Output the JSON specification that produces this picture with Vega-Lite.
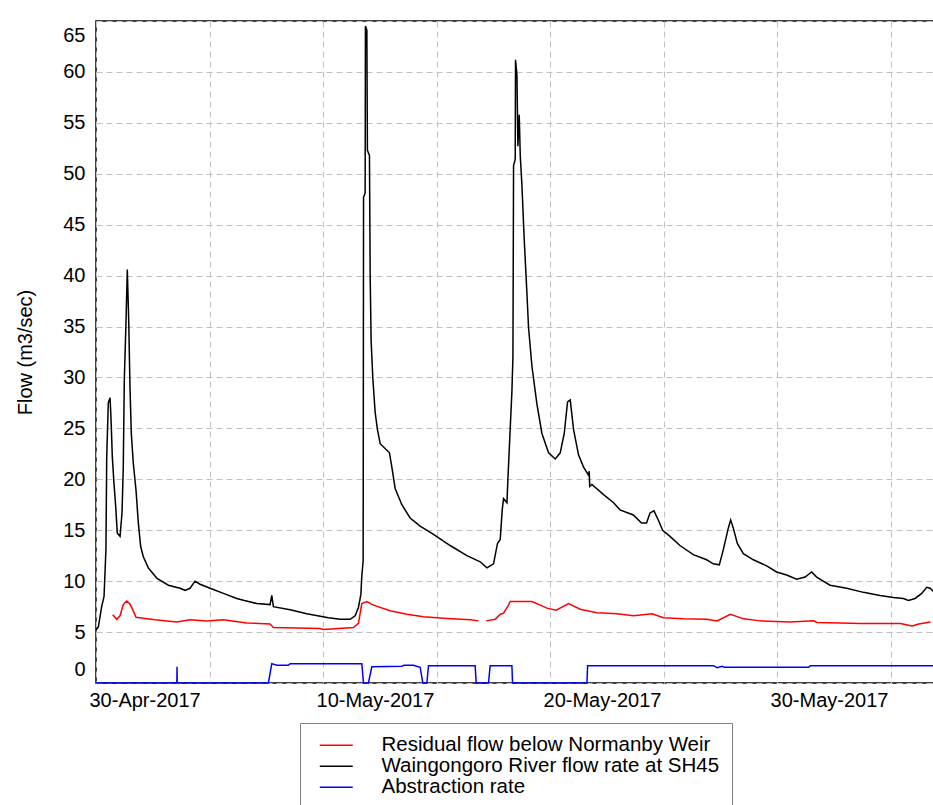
{
  "$schema": "https://vega.github.io/schema/vega-lite/v6.json",
  "width": 840,
  "height": 662,
  "autosize": {"type": "none"},
  "padding": {"left": 96, "top": 21, "right": 0, "bottom": 122},
  "background": "white",
  "config": {
    "font": "Liberation Sans",
    "view": {"stroke": "#000000", "strokeWidth": 1.5}
  },
  "datasets": {
    "black": [
      {"t":"2017-04-30T00:00","v":5.2},{"t":"2017-04-30T02:30","v":5.5},{"t":"2017-04-30T06:00","v":7.5},{"t":"2017-04-30T08:30","v":8.5},
      {"t":"2017-04-30T10:30","v":13.1},{"t":"2017-04-30T11:20","v":22.2},{"t":"2017-04-30T13:00","v":27.5},{"t":"2017-04-30T14:50","v":28.0},
      {"t":"2017-04-30T15:50","v":26.1},{"t":"2017-04-30T17:15","v":22.2},{"t":"2017-04-30T19:00","v":19.6},{"t":"2017-04-30T20:50","v":17.3},
      {"t":"2017-04-30T22:30","v":14.7},{"t":"2017-05-01T01:25","v":14.4},{"t":"2017-05-01T03:30","v":16.7},{"t":"2017-05-01T04:50","v":21.2},
      {"t":"2017-05-01T05:55","v":29.7},{"t":"2017-05-01T07:45","v":35.6},{"t":"2017-05-01T09:05","v":40.6},{"t":"2017-05-01T10:35","v":35.6},
      {"t":"2017-05-01T11:55","v":29.1},{"t":"2017-05-01T13:20","v":24.5},{"t":"2017-05-01T15:25","v":21.6},{"t":"2017-05-01T18:20","v":18.9},
      {"t":"2017-05-01T20:45","v":15.7},{"t":"2017-05-01T23:15","v":13.4},{"t":"2017-05-02T02:00","v":12.4},{"t":"2017-05-02T07:20","v":11.3},
      {"t":"2017-05-02T16:10","v":10.3},{"t":"2017-05-03T04:30","v":9.6},{"t":"2017-05-03T16:50","v":9.3},{"t":"2017-05-03T22:10","v":9.1},
      {"t":"2017-05-04T03:25","v":9.3},{"t":"2017-05-04T08:40","v":10.0},{"t":"2017-05-04T14:00","v":9.7},{"t":"2017-05-05T00:35","v":9.3},
      {"t":"2017-05-05T14:40","v":8.8},{"t":"2017-05-06T04:50","v":8.3},{"t":"2017-05-06T12:50","v":8.1},{"t":"2017-05-07T02:00","v":7.8},
      {"t":"2017-05-07T16:00","v":7.7},{"t":"2017-05-07T17:50","v":8.6},{"t":"2017-05-07T19:30","v":7.5},{"t":"2017-05-08T13:10","v":7.2},
      {"t":"2017-05-09T06:50","v":6.8},{"t":"2017-05-10T05:40","v":6.4},{"t":"2017-05-10T18:05","v":6.25},{"t":"2017-05-11T04:40","v":6.25},
      {"t":"2017-05-11T09:55","v":6.6},{"t":"2017-05-11T13:25","v":7.4},{"t":"2017-05-11T16:00","v":8.7},{"t":"2017-05-11T17:00","v":10.5},
      {"t":"2017-05-11T18:25","v":12.0},{"t":"2017-05-11T18:50","v":47.7},{"t":"2017-05-11T20:30","v":48.1},{"t":"2017-05-11T20:50","v":64.5},
      {"t":"2017-05-11T22:20","v":64.1},{"t":"2017-05-11T22:55","v":52.3},{"t":"2017-05-12T01:05","v":51.8},{"t":"2017-05-12T01:50","v":40.1},
      {"t":"2017-05-12T02:50","v":33.6},{"t":"2017-05-12T04:40","v":29.9},{"t":"2017-05-12T07:05","v":26.6},{"t":"2017-05-12T09:30","v":24.9},
      {"t":"2017-05-12T12:25","v":23.5},{"t":"2017-05-12T22:15","v":22.6},{"t":"2017-05-13T00:45","v":21.2},{"t":"2017-05-13T04:15","v":19.1},
      {"t":"2017-05-13T11:20","v":17.5},{"t":"2017-05-13T20:05","v":16.2},{"t":"2017-05-14T06:40","v":15.4},{"t":"2017-05-14T20:45","v":14.6},
      {"t":"2017-05-15T14:25","v":13.5},{"t":"2017-05-16T08:05","v":12.5},{"t":"2017-05-16T22:10","v":11.9},{"t":"2017-05-17T05:15","v":11.3},
      {"t":"2017-05-17T12:15","v":11.7},{"t":"2017-05-17T16:25","v":13.7},{"t":"2017-05-17T19:20","v":14.1},{"t":"2017-05-17T21:25","v":17.0},
      {"t":"2017-05-17T22:50","v":18.1},{"t":"2017-05-18T02:25","v":17.7},{"t":"2017-05-18T03:25","v":19.9},{"t":"2017-05-18T05:50","v":24.9},
      {"t":"2017-05-18T07:40","v":28.6},{"t":"2017-05-18T08:45","v":32.0},{"t":"2017-05-18T09:25","v":50.8},{"t":"2017-05-18T11:10","v":51.4},
      {"t":"2017-05-18T11:30","v":61.2},{"t":"2017-05-18T13:00","v":59.7},{"t":"2017-05-18T14:00","v":52.7},{"t":"2017-05-18T15:25","v":55.8},
      {"t":"2017-05-18T16:30","v":51.8},{"t":"2017-05-18T18:15","v":48.9},{"t":"2017-05-18T20:40","v":43.6},{"t":"2017-05-18T23:35","v":38.2},
      {"t":"2017-05-19T01:15","v":34.9},{"t":"2017-05-19T04:50","v":31.1},{"t":"2017-05-19T10:05","v":27.4},{"t":"2017-05-19T15:25","v":24.5},
      {"t":"2017-05-19T22:25","v":22.6},{"t":"2017-05-20T05:30","v":22.0},{"t":"2017-05-20T10:45","v":22.6},{"t":"2017-05-20T15:00","v":24.5},
      {"t":"2017-05-20T18:30","v":27.6},{"t":"2017-05-20T21:20","v":27.8},{"t":"2017-05-21T00:50","v":24.9},{"t":"2017-05-21T06:05","v":22.4},
      {"t":"2017-05-21T11:25","v":21.2},{"t":"2017-05-21T16:40","v":20.4},{"t":"2017-05-21T17:25","v":20.8},{"t":"2017-05-21T17:55","v":19.3},
      {"t":"2017-05-21T20:15","v":19.5},{"t":"2017-05-22T08:35","v":18.5},{"t":"2017-05-22T19:10","v":17.7},{"t":"2017-05-23T01:55","v":17.0},
      {"t":"2017-05-23T16:00","v":16.5},{"t":"2017-05-24T00:45","v":15.7},{"t":"2017-05-24T06:00","v":15.7},{"t":"2017-05-24T09:40","v":16.7},
      {"t":"2017-05-24T13:50","v":16.9},{"t":"2017-05-24T18:25","v":16.0},{"t":"2017-05-24T23:00","v":15.0},{"t":"2017-05-25T06:50","v":14.4},
      {"t":"2017-05-25T17:20","v":13.5},{"t":"2017-05-26T07:25","v":12.6},{"t":"2017-05-26T21:30","v":12.1},{"t":"2017-05-27T04:35","v":11.7},
      {"t":"2017-05-27T10:55","v":11.6},{"t":"2017-05-27T15:10","v":13.1},{"t":"2017-05-27T20:25","v":15.2},{"t":"2017-05-27T22:55","v":16.0},
      {"t":"2017-05-28T01:45","v":15.2},{"t":"2017-05-28T06:00","v":13.7},{"t":"2017-05-28T12:20","v":12.7},{"t":"2017-05-28T22:55","v":12.1},
      {"t":"2017-05-29T13:00","v":11.5},{"t":"2017-05-29T23:30","v":10.9},{"t":"2017-05-30T10:05","v":10.6},{"t":"2017-05-30T20:40","v":10.2},
      {"t":"2017-05-31T05:35","v":10.4},{"t":"2017-05-31T12:35","v":10.9},{"t":"2017-05-31T17:50","v":10.4},{"t":"2017-06-01T08:00","v":9.6},
      {"t":"2017-06-02T01:35","v":9.3},{"t":"2017-06-02T19:15","v":8.9},{"t":"2017-06-03T12:55","v":8.6},{"t":"2017-06-04T03:00","v":8.4},
      {"t":"2017-06-04T13:35","v":8.3},{"t":"2017-06-04T18:50","v":8.1},{"t":"2017-06-05T01:55","v":8.3},{"t":"2017-06-05T08:55","v":8.8},
      {"t":"2017-06-05T14:10","v":9.4},{"t":"2017-06-05T17:50","v":9.3},{"t":"2017-06-05T21:15","v":9.0}
    ],
    "red": [
      {"t":"2017-04-30T17:40","v":6.7},{"t":"2017-04-30T21:55","v":6.25},{"t":"2017-05-01T01:25","v":6.6},{"t":"2017-05-01T04:50","v":7.7},
      {"t":"2017-05-01T08:30","v":8.05},{"t":"2017-05-01T11:55","v":7.75},{"t":"2017-05-01T14:50","v":7.2},{"t":"2017-05-01T18:20","v":6.45},
      {"t":"2017-05-02T02:00","v":6.35},{"t":"2017-05-02T14:25","v":6.2},{"t":"2017-05-03T13:20","v":6.0},{"t":"2017-05-04T03:25","v":6.2},
      {"t":"2017-05-04T21:05","v":6.1},{"t":"2017-05-05T14:40","v":6.2},{"t":"2017-05-06T15:25","v":5.9},{"t":"2017-05-07T16:00","v":5.8},
      {"t":"2017-05-07T19:30","v":5.45},{"t":"2017-05-09T20:55","v":5.35},{"t":"2017-05-10T00:25","v":5.25},{"t":"2017-05-11T08:10","v":5.45},
      {"t":"2017-05-11T13:25","v":5.85},{"t":"2017-05-11T17:00","v":7.8},{"t":"2017-05-11T22:20","v":8.0},{"t":"2017-05-12T05:20","v":7.65},
      {"t":"2017-05-12T22:55","v":7.1},{"t":"2017-05-13T16:35","v":6.75},{"t":"2017-05-14T10:10","v":6.5},{"t":"2017-05-15T07:20","v":6.35},
      {"t":"2017-05-16T11:35","v":6.2},{"t":"2017-05-16T20:20","v":6.1},{"t":"2017-05-17T00:30","v":null},{"t":"2017-05-17T04:30","v":6.1},
      {"t":"2017-05-17T14:00","v":6.25},{"t":"2017-05-17T19:20","v":6.75},{"t":"2017-05-17T22:50","v":6.85},{"t":"2017-05-18T04:05","v":7.65},
      {"t":"2017-05-18T05:50","v":8.0},{"t":"2017-05-19T04:50","v":8.0},{"t":"2017-05-19T13:35","v":7.65},{"t":"2017-05-19T20:40","v":7.35},
      {"t":"2017-05-20T06:30","v":7.15},{"t":"2017-05-20T19:30","v":7.8},{"t":"2017-05-21T07:55","v":7.25},{"t":"2017-05-22T01:35","v":6.9},
      {"t":"2017-05-22T22:45","v":6.8},{"t":"2017-05-23T16:15","v":6.6},{"t":"2017-05-24T11:45","v":6.8},{"t":"2017-05-25T00:00","v":6.4},
      {"t":"2017-05-25T21:10","v":6.3},{"t":"2017-05-26T21:55","v":6.25},{"t":"2017-05-27T08:30","v":6.1},{"t":"2017-05-27T22:35","v":6.75},
      {"t":"2017-05-28T12:40","v":6.3},{"t":"2017-05-29T06:20","v":6.1},{"t":"2017-05-30T14:00","v":6.0},{"t":"2017-05-31T14:40","v":6.1},
      {"t":"2017-05-31T18:15","v":5.95},{"t":"2017-06-01T18:55","v":5.9},{"t":"2017-06-02T16:05","v":5.85},{"t":"2017-06-04T10:20","v":5.85},
      {"t":"2017-06-04T22:45","v":5.6},{"t":"2017-06-05T05:45","v":5.8},{"t":"2017-06-05T18:05","v":6.0}
    ],
    "blue": [
      {"t":"2017-04-30T00:00","v":0},{"t":"2017-05-03T13:30","v":0},{"t":"2017-05-03T13:40","v":1.6},{"t":"2017-05-03T13:50","v":0},
      {"t":"2017-05-07T14:15","v":0},{"t":"2017-05-07T17:50","v":1.9},{"t":"2017-05-07T23:05","v":1.75},{"t":"2017-05-08T11:25","v":1.75},
      {"t":"2017-05-08T13:10","v":1.9},{"t":"2017-05-11T17:00","v":1.9},{"t":"2017-05-11T18:45","v":0},{"t":"2017-05-12T00:00","v":0},
      {"t":"2017-05-12T03:35","v":1.6},{"t":"2017-05-13T11:20","v":1.65},{"t":"2017-05-13T13:45","v":1.75},{"t":"2017-05-13T23:35","v":1.75},
      {"t":"2017-05-14T06:40","v":1.55},{"t":"2017-05-14T09:30","v":0},{"t":"2017-05-14T13:45","v":0},{"t":"2017-05-14T15:30","v":1.7},
      {"t":"2017-05-16T16:50","v":1.7},{"t":"2017-05-16T17:55","v":0},{"t":"2017-05-17T06:55","v":0},{"t":"2017-05-17T08:40","v":1.7},
      {"t":"2017-05-18T07:40","v":1.7},{"t":"2017-05-18T08:20","v":0},{"t":"2017-05-21T15:00","v":0},{"t":"2017-05-21T15:40","v":1.7},
      {"t":"2017-05-27T04:55","v":1.7},{"t":"2017-05-27T08:30","v":1.5},{"t":"2017-05-27T13:45","v":1.65},{"t":"2017-05-27T16:15","v":1.55},
      {"t":"2017-05-31T09:25","v":1.55},{"t":"2017-05-31T11:10","v":1.7},{"t":"2017-06-06T00:00","v":1.7}
    ]
  },
  "encoding": {
    "x": {
      "field": "t", "type": "temporal",
      "scale": {"domain": [{"year": 2017, "month": "apr", "date": 30}, {"year": 2017, "month": "jun", "date": 6}], "nice": false},
      "axis": {
        "title": null,
        "values": [
          {"year": 2017, "month": "apr", "date": 30}, {"year": 2017, "month": "may", "date": 5},
          {"year": 2017, "month": "may", "date": 10}, {"year": 2017, "month": "may", "date": 15},
          {"year": 2017, "month": "may", "date": 20}, {"year": 2017, "month": "may", "date": 25},
          {"year": 2017, "month": "may", "date": 30}, {"year": 2017, "month": "jun", "date": 4}
        ],
        "labelExpr": "date(datum.value) % 10 === 0 ? timeFormat(datum.value, '%d-%b-%Y') : ''",
        "grid": true, "gridColor": "#c0c0c0", "gridDash": [6, 4], "gridWidth": 1,
        "domain": false, "ticks": false,
        "labelAlign": "left", "labelOffset": -7, "labelPadding": 7,
        "labelFlush": false, "labelOverlap": false, "labelBound": false,
        "labelFontSize": 20, "labelFont": "Liberation Sans", "labelColor": "#000000"
      }
    },
    "y": {
      "field": "v", "type": "quantitative",
      "scale": {"domain": [0, 65], "nice": false, "zero": false},
      "axis": {
        "title": "Flow (m3/sec)",
        "values": [0, 5, 10, 15, 20, 25, 30, 35, 40, 45, 50, 55, 60, 65],
        "grid": true, "gridColor": "#c0c0c0", "gridDash": [6, 4], "gridWidth": 1,
        "domain": false, "ticks": false,
        "labelPadding": 11, "labelFlush": true, "labelFlushOffset": -4, "labelOverlap": false,
        "labelFontSize": 20, "labelFont": "Liberation Sans", "labelColor": "#000000",
        "titleFontSize": 20, "titleFont": "Liberation Sans", "titleFontWeight": "normal", "titleColor": "#000000",
        "titleX": -71, "titleY": 331, "titleAngle": -90, "titleAlign": "center", "titleBaseline": "middle"
      }
    }
  },
  "layer": [
    {
      "data": {"name": "blue"},
      "mark": {"type": "line", "strokeWidth": 1.5},
      "encoding": {
        "color": {
          "datum": "Abstraction rate", "type": "nominal",
          "scale": {"domain": ["Residual flow below Normanby Weir", "Waingongoro River flow rate at SH45", "Abstraction rate"], "range": ["#ff0000", "#000000", "#0000ff"]},
          "legend": {"orient": "none", "legendX": 204, "legendY": 702, "title": null, "strokeColor": "#808080", "padding": 12,
            "symbolType": "M-3,0H3", "symbolSize": 121, "symbolStrokeWidth": 1.5, "symbolOffset": 14,
            "labelFontSize": 20.5, "labelFont": "Liberation Sans", "labelColor": "#000000", "labelOffset": 35, "labelLimit": 600, "rowPadding": 0}
        }
      }
    },
    {
      "data": {"name": "red"},
      "mark": {"type": "line", "strokeWidth": 1.5, "invalid": "break-paths-filter-domains"},
      "encoding": {"color": {"datum": "Residual flow below Normanby Weir", "type": "nominal"}}
    },
    {
      "data": {"name": "black"},
      "mark": {"type": "line", "strokeWidth": 1.5},
      "encoding": {"color": {"datum": "Waingongoro River flow rate at SH45", "type": "nominal"}}
    }
  ]
}
